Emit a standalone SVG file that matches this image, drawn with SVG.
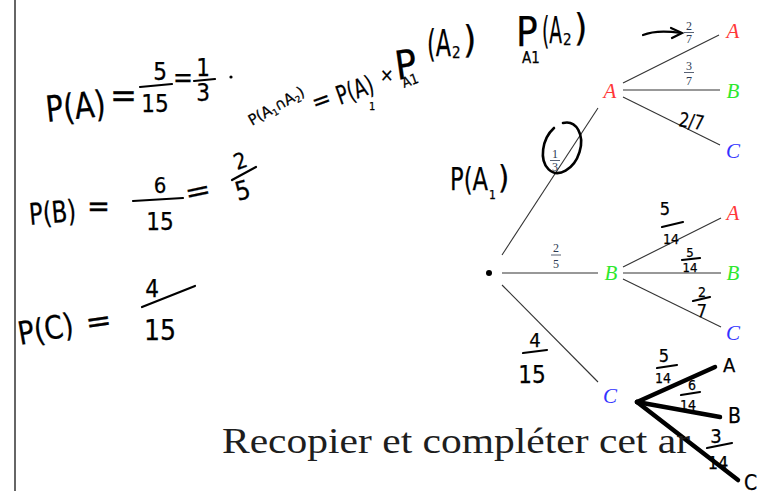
<svg xmlns="http://www.w3.org/2000/svg" width="758" height="491" viewBox="0 0 758 491">
<style>
.hw{font-family:"Liberation Sans Narrow","DejaVu Sans Condensed","Liberation Sans",sans-serif;fill:#000;stroke:#000;stroke-width:0.25}
.bar{stroke:#000;stroke-width:2.2;stroke-linecap:round;fill:none}
.tl{stroke:#333;stroke-width:1.1;fill:none}
.thick{stroke:#000;stroke-width:4.5;stroke-linecap:round;fill:none}
.lbl{font-family:"Liberation Serif","DejaVu Serif",serif;font-size:12px;fill:#2d3a52;text-anchor:middle}
.fb{stroke:#2d3a52;stroke-width:0.8}
.node{font-family:"Liberation Serif","DejaVu Serif",serif;font-style:italic;font-size:21px;text-anchor:middle}
.r{fill:#ff3838}.g{fill:#2ee82e}.b{fill:#3333ff}
.mid{text-anchor:middle}
</style>
<rect width="758" height="491" fill="#fff"/>
<line x1="15" y1="0" x2="15" y2="491" stroke="#333" stroke-width="1.5"/>

<!-- connectors -->
<g id="connectors">
  <line class="tl" x1="502" y1="255" x2="598" y2="108"/>
  <line class="tl" x1="502" y1="273" x2="598" y2="273"/>
  <line class="tl" x1="502" y1="285" x2="598" y2="382"/>
  <line class="tl" x1="623" y1="83" x2="719" y2="35"/>
  <line class="tl" x1="623" y1="90" x2="720" y2="90"/>
  <line class="tl" x1="623" y1="97" x2="720" y2="145"/>
  <line class="tl" x1="623" y1="267" x2="721" y2="218"/>
  <line class="tl" x1="623" y1="273" x2="721" y2="273"/>
  <line class="tl" x1="623" y1="279" x2="721" y2="327"/>
  <line class="thick" x1="637" y1="402" x2="715" y2="367"/>
  <line class="thick" x1="637" y1="402" x2="720" y2="417"/>
  <line class="thick" x1="637" y1="402" x2="738" y2="480"/>
  <!-- typeset labels -->
  <text class="lbl" x="555" y="158">1</text><line class="fb" x1="550" y1="160.5" x2="560" y2="160.5"/><text class="lbl" x="555" y="171">3</text>
  <text class="lbl" x="556" y="252">2</text><line class="fb" x1="551" y1="255" x2="561" y2="255"/><text class="lbl" x="556" y="268">5</text>
  <text class="lbl" x="689" y="30">2</text><line class="fb" x1="684" y1="32.5" x2="694" y2="32.5"/><text class="lbl" x="689" y="43">7</text>
  <text class="lbl" x="689" y="70">3</text><line class="fb" x1="684" y1="72.5" x2="694" y2="72.5"/><text class="lbl" x="689" y="85">7</text>
</g>

<g id="root"><circle cx="489" cy="273" r="3" fill="#000"/></g>
<g id="nodeA"><text class="node r" x="610" y="98">A</text></g>
<g id="nodeB"><text class="node g" x="611" y="280">B</text></g>
<g id="nodeC"><text class="node b" x="610" y="403">C</text></g>
<g id="nodeAA"><text class="node r" x="733" y="38">A</text></g>
<g id="nodeAB"><text class="node g" x="733" y="98">B</text></g>
<g id="nodeAC"><text class="node b" x="733" y="158">C</text></g>
<g id="nodeBA"><text class="node r" x="733" y="220">A</text></g>
<g id="nodeBB"><text class="node g" x="733" y="280">B</text></g>
<g id="nodeBC"><text class="node b" x="733" y="340">C</text></g>
<g id="nodeCA"><text class="hw" x="723" y="372" font-size="20">A</text></g>
<g id="nodeCB"><text class="hw" x="728" y="423" font-size="21">B</text></g>
<g id="nodeCC"><text class="hw" x="744" y="490" font-size="21">C</text></g>

<!-- printed instruction -->
<text x="222" y="453" font-family="Liberation Serif,serif" font-size="36" fill="#1e1e1e" textLength="468" lengthAdjust="spacingAndGlyphs">Recopier et compléter cet ar</text>

<!-- handwritten notes -->
<g id="notes">
  <!-- P(A) = 5/15 = 1/3 . -->
  <text class="hw" x="47" y="122" font-size="36" textLength="60" lengthAdjust="spacingAndGlyphs" transform="rotate(-6 47 122)">P(A)</text>
  <text class="hw" x="110" y="107" font-size="34" textLength="27" lengthAdjust="spacingAndGlyphs">=</text>
  <text class="hw mid" x="160" y="80" font-size="24">5</text>
  <line class="bar" x1="140" y1="87" x2="172" y2="84"/>
  <text class="hw mid" x="155" y="112" font-size="24">15</text>
  <text class="hw" x="173" y="87" font-size="28" textLength="20" lengthAdjust="spacingAndGlyphs">=</text>
  <text class="hw mid" x="203" y="76" font-size="24">1</text>
  <line class="bar" x1="194" y1="81" x2="215" y2="79"/>
  <text class="hw mid" x="203" y="101" font-size="24">3</text>
  <circle cx="231" cy="77" r="1.6" fill="#000"/>

  <!-- P(B) = 6/15 = 2/5 -->
  <text class="hw" x="30" y="225" font-size="30" textLength="47" lengthAdjust="spacingAndGlyphs" transform="rotate(-5 30 225)">P(B)</text>
  <text class="hw" x="87" y="216" font-size="30" textLength="23" lengthAdjust="spacingAndGlyphs">=</text>
  <text class="hw mid" x="160" y="193" font-size="22">6</text>
  <line class="bar" x1="133" y1="201" x2="183" y2="198"/>
  <text class="hw mid" x="160" y="230" font-size="24">15</text>
  <text class="hw" x="187" y="203" font-size="28" textLength="26" lengthAdjust="spacingAndGlyphs" transform="rotate(-12 187 203)">=</text>
  <text class="hw mid" x="243" y="168" font-size="22" transform="rotate(-20 243 168)">2</text>
  <line class="bar" x1="232" y1="180" x2="256" y2="167"/>
  <text class="hw mid" x="245" y="199" font-size="26" transform="rotate(-15 245 199)">5</text>

  <!-- P(C) = 4/15 -->
  <text class="hw" x="20" y="345" font-size="32" textLength="56" lengthAdjust="spacingAndGlyphs" transform="rotate(-10 20 345)">P(C)</text>
  <text class="hw" x="87" y="333" font-size="30" textLength="26" lengthAdjust="spacingAndGlyphs" transform="rotate(-8 87 333)">=</text>
  <text class="hw mid" x="152" y="297" font-size="24">4</text>
  <line class="bar" x1="142" y1="307" x2="195" y2="286"/>
  <text class="hw mid" x="160" y="340" font-size="28">15</text>

  <!-- P(A1∩A2) = P(A1) × P_A1(A2) -->
  <text class="hw" x="252" y="126" font-size="15" textLength="62" lengthAdjust="spacingAndGlyphs" transform="rotate(-30 252 126)">P(A<tspan font-size="9" dy="3">1</tspan><tspan dy="-3">∩A</tspan><tspan font-size="9" dy="3">2</tspan><tspan dy="-3">)</tspan></text>
  <text class="hw" x="315" y="111" font-size="24" textLength="19" lengthAdjust="spacingAndGlyphs" transform="rotate(-20 315 111)">=</text>
  <text class="hw" x="340" y="105" font-size="26" textLength="38" lengthAdjust="spacingAndGlyphs" transform="rotate(-20 340 105)">P(A)</text>
  <text class="hw" x="369" y="110" font-size="11">1</text>
  <text class="hw" x="380" y="81" font-size="18">×</text>
  <text class="hw" x="397" y="80" font-size="40" transform="rotate(-8 397 80)">P</text>
  <text class="hw" x="404" y="88" font-size="14" transform="rotate(-20 404 88)">A1</text>
  <text class="hw" x="427" y="56" font-size="38" textLength="24" lengthAdjust="spacingAndGlyphs">(A</text>
  <text class="hw" x="452" y="58" font-size="15">2</text>
  <text class="hw" x="463" y="52" font-size="38">)</text>

  <!-- P_A1(A2) -->
  <text class="hw" x="516" y="46" font-size="40">P</text>
  <text class="hw" x="522" y="63" font-size="15">A1</text>
  <text class="hw" x="542" y="43" font-size="38" textLength="20" lengthAdjust="spacingAndGlyphs">(A</text>
  <text class="hw" x="563" y="45" font-size="15">2</text>
  <text class="hw" x="574" y="40" font-size="38">)</text>

  <!-- arrow to 2/7 -->
  <path class="bar" d="M643,35 C655,30 668,31 681,33"/>
  <path class="bar" d="M671,28 L682,33 L672,38"/>

  <!-- circled 1/3 -->
  <path d="M563,123 A18 26 20 1 1 554,128" fill="none" stroke="#000" stroke-width="2.6" stroke-linecap="round"/>

  <!-- P(A1) near tree -->
  <text class="hw" x="450" y="190" font-size="32" textLength="38" lengthAdjust="spacingAndGlyphs">P(A</text>
  <text class="hw" x="489" y="199" font-size="12">1</text>
  <text class="hw" x="498" y="188" font-size="32">)</text>

  <!-- branch labels -->
  <text class="hw" x="678" y="126" font-size="20" textLength="25" lengthAdjust="spacingAndGlyphs" transform="rotate(10 678 126)">2/7</text>

  <text class="hw mid" x="665" y="215" font-size="18">5</text>
  <line class="bar" x1="662" y1="227" x2="683" y2="222"/>
  <text class="hw mid" x="671" y="244" font-size="14">14</text>

  <text class="hw mid" x="690" y="257" font-size="13">5</text>
  <line class="bar" x1="682" y1="260" x2="700" y2="258"/>
  <text class="hw mid" x="690" y="272" font-size="13">14</text>

  <text class="hw mid" x="702" y="297" font-size="14">2</text>
  <line class="bar" x1="693" y1="301" x2="710" y2="297"/>
  <text class="hw mid" x="702" y="317" font-size="18">7</text>

  <text class="hw mid" x="535" y="347" font-size="20">4</text>
  <line class="bar" x1="523" y1="353" x2="547" y2="350"/>
  <text class="hw mid" x="532" y="383" font-size="24">15</text>

  <text class="hw mid" x="664" y="362" font-size="18">5</text>
  <line class="bar" x1="657" y1="368" x2="677" y2="365"/>
  <text class="hw mid" x="663" y="383" font-size="14">14</text>

  <text class="hw mid" x="692" y="390" font-size="14">6</text>
  <line class="bar" x1="681" y1="395" x2="700" y2="392"/>
  <text class="hw mid" x="688" y="410" font-size="14">14</text>

  <text class="hw mid" x="716" y="443" font-size="20">3</text>
  <line class="bar" x1="707" y1="448" x2="732" y2="443"/>
  <text class="hw mid" x="718" y="469" font-size="18">14</text>
</g>
</svg>
